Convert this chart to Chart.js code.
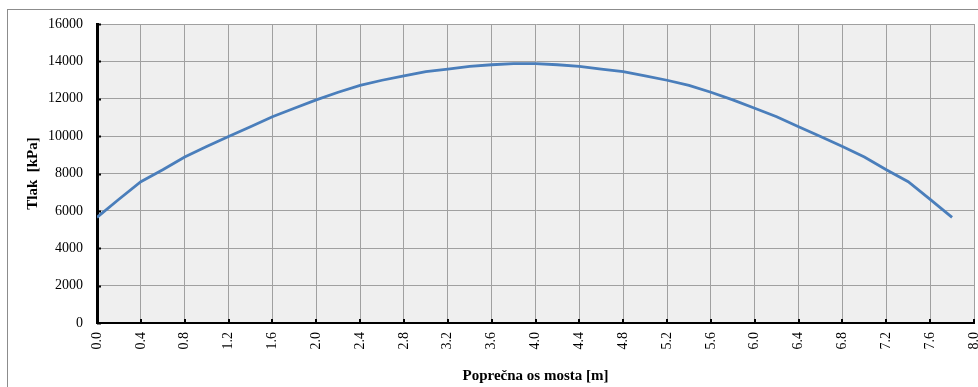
<!DOCTYPE html>
<html>
<head>
<meta charset="utf-8">
<script src="https://cdn.jsdelivr.net/npm/chart.js@4"></script>
<style>
  html, body { margin: 0; padding: 0; background: #fff; }
  #chart { display: block; }
</style>
</head>
<body>
<canvas id="chart" width="978" height="387"></canvas>
<script>
// position across the bridge [m]
const positions = [0.0, 0.2, 0.4, 0.6, 0.8, 1.0, 1.2, 1.4, 1.6, 1.8,
  2.0, 2.2, 2.4, 2.6, 2.8, 3.0, 3.2, 3.4, 3.6, 3.8,
  4.0, 4.2, 4.4, 4.6, 4.8, 5.0, 5.2, 5.4, 5.6, 5.8,
  6.0, 6.2, 6.4, 6.6, 6.8, 7.0, 7.2, 7.4, 7.6, 7.8];
// pressure [kPa]
const pressure = [5650, 6620, 7560, 8200, 8880, 9440, 9980, 10500, 11040, 11490,
  11940, 12350, 12720, 12990, 13230, 13450, 13580, 13730, 13820, 13880,
  13880, 13820, 13730, 13580, 13450, 13230, 12990, 12720, 12350, 11940,
  11490, 11040, 10500, 9980, 9440, 8880, 8200, 7560, 6620, 5650];

const xTitle = 'Poprečna os mosta [m]';
const yTitle = 'Tlak  [kPa]';

const serif = '"Liberation Serif", "Times New Roman", serif';

// frame + plot background
const backdrop = {
  id: 'backdrop',
  beforeDraw(chart) {
    const { ctx, chartArea: a } = chart;
    ctx.save();
    ctx.fillStyle = '#fff';
    ctx.fillRect(0, 0, chart.width, chart.height);
    ctx.strokeStyle = '#8c8c8c';
    ctx.lineWidth = 1;
    ctx.strokeRect(7.5, 9.5, chart.width + 20, chart.height + 20);
    ctx.fillStyle = '#efefef';
    ctx.fillRect(a.left, a.top, a.right - a.left, a.bottom - a.top);
    ctx.restore();
  }
};

// short tick marks pointing into the plot
const innerTicks = {
  id: 'innerTicks',
  afterDatasetsDraw(chart) {
    const { ctx, chartArea: a, scales } = chart;
    ctx.save();
    ctx.strokeStyle = '#000';
    ctx.lineWidth = 2;
    ctx.beginPath();
    scales.y.ticks.forEach(t => {
      const y = Math.round(scales.y.getPixelForValue(t.value)) + 0.5;
      ctx.moveTo(a.left, y); ctx.lineTo(a.left + 4, y);
    });
    scales.x.ticks.forEach(t => {
      const x = Math.round(scales.x.getPixelForValue(t.value));
      ctx.moveTo(x, a.bottom); ctx.lineTo(x, a.bottom - 4);
    });
    ctx.stroke();
    ctx.restore();
  }
};

new Chart(document.getElementById('chart'), {
  type: 'line',
  data: {
    datasets: [{
      data: positions.map((x, i) => ({ x, y: pressure[i] })),
      borderColor: '#4a7ebb',
      borderWidth: 2.8,
      pointRadius: 0,
      tension: 0,
      fill: false,
    }]
  },
  options: {
    responsive: false,
    animation: false,
    devicePixelRatio: 1,
    layout: { padding: { top: 24, right: 4, bottom: 0, left: 0 } },
    plugins: { legend: { display: false }, tooltip: { enabled: false } },
    scales: {
      x: {
        type: 'linear', min: 0, max: 8,
        afterFit: s => { s.height = 64; s.paddingLeft = 0; s.paddingRight = 0; },
        ticks: {
          stepSize: 0.4, minRotation: 90, maxRotation: 90, padding: 9,
          color: '#000', font: { family: serif, size: 14 },
          callback: v => v.toFixed(1),
        },
        grid: { color: '#a0a0a0', lineWidth: 1, drawTicks: false },
        border: { color: '#000', width: 2 },
        title: {
          display: true, text: xTitle, color: '#000',
          font: { family: serif, size: 15, weight: 'bold' },
          padding: { top: 0, bottom: 2 },
        },
      },
      y: {
        min: 0, max: 16000,
        afterFit: s => { s.width = 97; s.paddingTop = 0; s.paddingBottom = 0; },
        ticks: {
          stepSize: 2000, padding: 14,
          color: '#000', font: { family: serif, size: 14 },
          callback: v => String(v),
        },
        grid: { color: '#a0a0a0', lineWidth: 1, drawTicks: false },
        border: { color: '#000', width: 3 },
        title: {
          display: true, text: yTitle, color: '#000',
          font: { family: serif, size: 15, weight: 'bold' },
          padding: { top: 24, bottom: 0 },
        },
      },
    },
  },
  plugins: [backdrop, innerTicks],
});
</script>
</body>
</html>
